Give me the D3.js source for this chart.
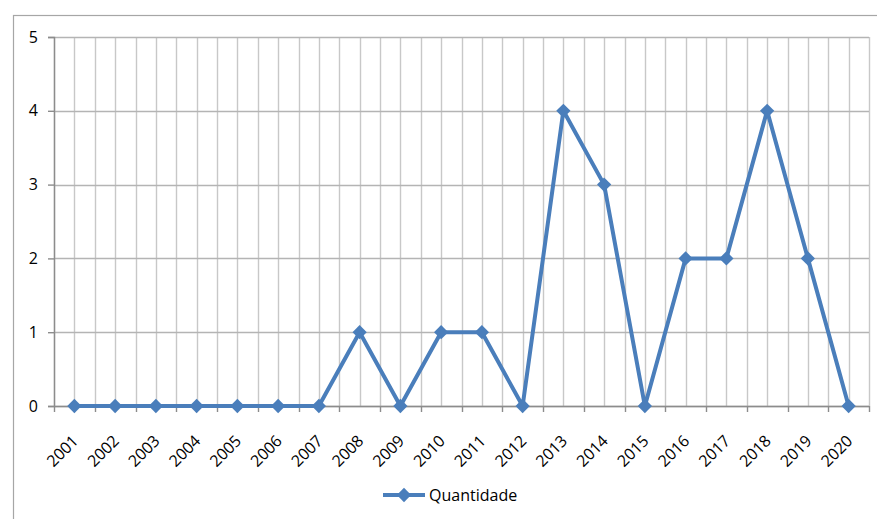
<!DOCTYPE html>
<html>
<head>
<meta charset="utf-8">
<script src="https://cdn.jsdelivr.net/npm/d3@7"></script>
<style>
  html, body { margin: 0; padding: 0; background: #fff; }
  svg { display: block; font-family: "Open Sans", Lato, sans-serif; }
</style>
</head>
<body>
<svg id="chart" width="877" height="519"></svg>
<script>
// Annual counts
const years = ["2001","2002","2003","2004","2005","2006","2007","2008","2009","2010",
               "2011","2012","2013","2014","2015","2016","2017","2018","2019","2020"];
const quantidade = [0,0,0,0,0,0,0,1,0,1,1,0,4,3,0,2,2,4,2,0];
const yTicks = [0,1,2,3,4,5];
const seriesName = "Quantidade";

const svg = d3.select("#chart");
const W = 877, H = 519;
const m = { left: 54, right: 8, top: 37, bottom: 113 };
const plotW = W - m.left - m.right;
const plotH = H - m.top - m.bottom;
const color = "#4a7ebb";
const font = "\"Open Sans\", Lato, sans-serif";

// Outer chart frame
svg.append("rect")
  .attr("x", 13.5).attr("y", 15.5)
  .attr("width", W + 10).attr("height", H + 10)
  .attr("fill", "#fff").attr("stroke", "#a6a6a6").attr("stroke-width", 1.2);

const g = svg.append("g").attr("transform", `translate(${m.left},${m.top})`);

const x = d3.scaleBand().domain(years).range([0, plotW]).paddingInner(0).paddingOuter(0);
const y = d3.scaleLinear().domain([0, 5]).range([plotH, 0]);
const cx = d => x(d) + x.bandwidth() / 2;

// Vertical gridlines at category boundaries and centres
const boundaries = years.map(d => x(d)).concat([plotW]);
const centres = years.map(cx);
g.append("g").selectAll("line")
  .data(boundaries.concat(centres))
  .join("line")
  .attr("x1", d => Math.round(d) + 0.5).attr("x2", d => Math.round(d) + 0.5)
  .attr("y1", 0).attr("y2", plotH)
  .attr("stroke", "#c8c8c8").attr("stroke-width", 1.4);

// Horizontal gridlines
g.append("g").selectAll("line")
  .data(yTicks)
  .join("line")
  .attr("x1", 0).attr("x2", plotW)
  .attr("y1", d => Math.round(y(d)) + 0.5).attr("y2", d => Math.round(y(d)) + 0.5)
  .attr("stroke", "#b4b4b4").attr("stroke-width", 1.4);

// Y axis
const yAxis = g.append("g")
  .call(d3.axisLeft(y).tickValues(yTicks).tickFormat(d3.format("d")).tickSize(6).tickPadding(10));
yAxis.select(".domain").attr("stroke", "#8c8c8c").attr("stroke-width", 1.4);
yAxis.selectAll(".tick line").attr("stroke", "#8c8c8c").attr("stroke-width", 1.4);
yAxis.selectAll("text").attr("fill", "#000").style("font-size", "16px")
  .style("font-family", font);

// X axis baseline with tick marks at category boundaries
g.append("line")
  .attr("x1", 0).attr("x2", plotW)
  .attr("y1", Math.round(plotH) + 0.5).attr("y2", Math.round(plotH) + 0.5)
  .attr("stroke", "#8c8c8c").attr("stroke-width", 1.4);
g.append("g").selectAll("line")
  .data(boundaries)
  .join("line")
  .attr("x1", d => Math.round(d) + 0.5).attr("x2", d => Math.round(d) + 0.5)
  .attr("y1", plotH).attr("y2", plotH + 6)
  .attr("stroke", "#8c8c8c").attr("stroke-width", 1.4);

// Rotated category labels
g.append("g").selectAll("text")
  .data(years)
  .join("text")
  .attr("transform", d => `translate(${cx(d) + 1},${plotH + 32}) rotate(-45)`)
  .attr("text-anchor", "end")
  .attr("dy", "0.35em")
  .style("font-size", "16px")
  .style("font-family", font)
  .attr("fill", "#000")
  .text(d => d);

// Series line
const line = d3.line().x((d, i) => cx(years[i])).y(d => y(d));
g.append("path")
  .datum(quantidade)
  .attr("d", line)
  .attr("fill", "none")
  .attr("stroke", color)
  .attr("stroke-width", 4)
  .attr("stroke-linejoin", "round");

// Diamond markers
const diamond = d3.symbol().type(d3.symbolDiamond2).size(130);
g.append("g").selectAll("path")
  .data(quantidade)
  .join("path")
  .attr("transform", (d, i) => `translate(${cx(years[i])},${y(d)})`)
  .attr("d", diamond)
  .attr("fill", color);

// Legend
const lg = svg.append("g").attr("transform", "translate(383,495)");
lg.append("line").attr("x1", 0).attr("x2", 42).attr("y1", 0).attr("y2", 0)
  .attr("stroke", color).attr("stroke-width", 4);
lg.append("path").attr("transform", "translate(21,0)")
  .attr("d", diamond).attr("fill", color);
lg.append("text").attr("x", 46).attr("y", 0).attr("dy", "0.35em")
  .style("font-size", "16px").style("font-family", font)
  .attr("fill", "#000").text(seriesName);
</script>
</body>
</html>
